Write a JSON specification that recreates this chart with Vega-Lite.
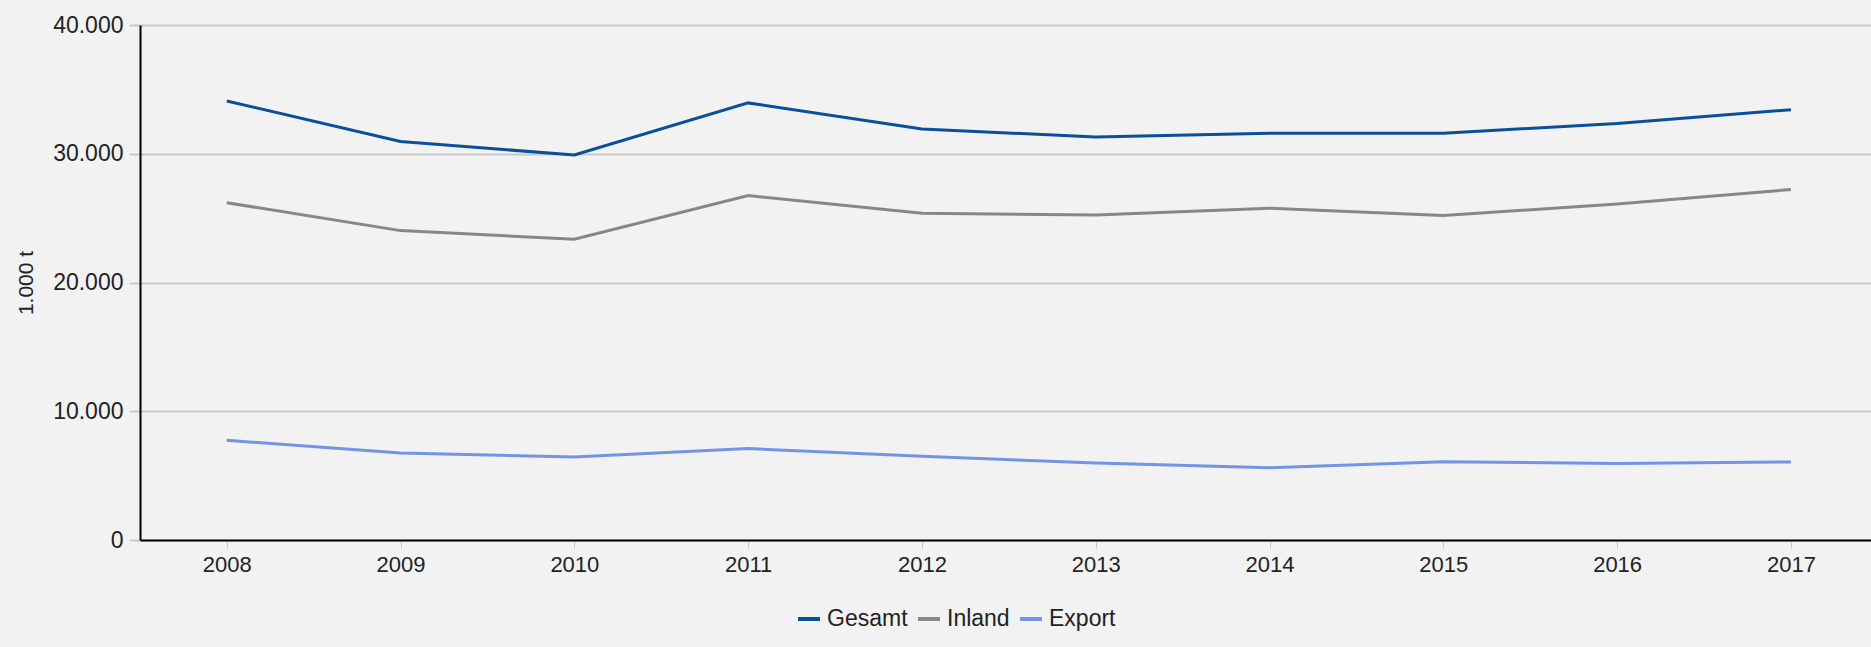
{
  "$schema": "https://vega.github.io/schema/vega-lite/v6.json",
  "width": 1731,
  "height": 515,
  "autosize": {"type": "none"},
  "padding": {"left": 140, "top": 25, "right": 0, "bottom": 107},
  "background": "#f2f2f2",
  "config": {
    "view": {"stroke": null},
    "font": "Liberation Sans",
    "axis": {"labelColor": "#222222", "titleColor": "#222222", "labelFont": "Liberation Sans", "titleFont": "Liberation Sans"},
    "legend": {"labelFont": "Liberation Sans"}
  },
  "data": {
    "values": [
      {"Jahr": "2008", "Reihe": "Gesamt", "Wert": 34100},
      {"Jahr": "2009", "Reihe": "Gesamt", "Wert": 30950},
      {"Jahr": "2010", "Reihe": "Gesamt", "Wert": 29900},
      {"Jahr": "2011", "Reihe": "Gesamt", "Wert": 33950},
      {"Jahr": "2012", "Reihe": "Gesamt", "Wert": 31920},
      {"Jahr": "2013", "Reihe": "Gesamt", "Wert": 31300},
      {"Jahr": "2014", "Reihe": "Gesamt", "Wert": 31600},
      {"Jahr": "2015", "Reihe": "Gesamt", "Wert": 31600},
      {"Jahr": "2016", "Reihe": "Gesamt", "Wert": 32350},
      {"Jahr": "2017", "Reihe": "Gesamt", "Wert": 33420},
      {"Jahr": "2008", "Reihe": "Inland", "Wert": 26200},
      {"Jahr": "2009", "Reihe": "Inland", "Wert": 24030},
      {"Jahr": "2010", "Reihe": "Inland", "Wert": 23360},
      {"Jahr": "2011", "Reihe": "Inland", "Wert": 26750},
      {"Jahr": "2012", "Reihe": "Inland", "Wert": 25380},
      {"Jahr": "2013", "Reihe": "Inland", "Wert": 25250},
      {"Jahr": "2014", "Reihe": "Inland", "Wert": 25770},
      {"Jahr": "2015", "Reihe": "Inland", "Wert": 25200},
      {"Jahr": "2016", "Reihe": "Inland", "Wert": 26100},
      {"Jahr": "2017", "Reihe": "Inland", "Wert": 27220},
      {"Jahr": "2008", "Reihe": "Export", "Wert": 7740},
      {"Jahr": "2009", "Reihe": "Export", "Wert": 6760},
      {"Jahr": "2010", "Reihe": "Export", "Wert": 6450},
      {"Jahr": "2011", "Reihe": "Export", "Wert": 7100},
      {"Jahr": "2012", "Reihe": "Export", "Wert": 6500},
      {"Jahr": "2013", "Reihe": "Export", "Wert": 5980},
      {"Jahr": "2014", "Reihe": "Export", "Wert": 5620},
      {"Jahr": "2015", "Reihe": "Export", "Wert": 6080},
      {"Jahr": "2016", "Reihe": "Export", "Wert": 5950},
      {"Jahr": "2017", "Reihe": "Export", "Wert": 6060}
    ]
  },
  "mark": {"type": "line", "strokeWidth": 3},
  "encoding": {
    "x": {
      "field": "Jahr",
      "type": "ordinal",
      "scale": {"type": "point", "padding": 0.48, "align": 0.52},
      "axis": {
        "title": null,
        "labelAngle": 0,
        "labelFontSize": 22,
        "labelPadding": 6,
        "domainColor": "#000000",
        "domainWidth": 2,
        "tickColor": "#c8c8c8",
        "tickSize": 8,
        "tickWidth": 1,
        "grid": false
      }
    },
    "y": {
      "field": "Wert",
      "type": "quantitative",
      "scale": {"domain": [0, 40000], "nice": false},
      "axis": {
        "title": "1.000 t",
        "titleFontSize": 21,
        "titleFontWeight": "normal",
        "titlePadding": 16,
        "values": [0, 10000, 20000, 30000, 40000],
        "labelExpr": "replace(format(datum.value, ','), ',', '.')",
        "labelFontSize": 23,
        "labelPadding": 6,
        "domainColor": "#000000",
        "domainWidth": 2,
        "tickColor": "#c8c8c8",
        "tickSize": 11,
        "tickWidth": 2,
        "grid": true,
        "gridColor": "#c8c8c8",
        "gridWidth": 2
      }
    },
    "color": {
      "field": "Reihe",
      "type": "nominal",
      "scale": {"domain": ["Gesamt", "Inland", "Export"], "range": ["#0b4f99", "#878787", "#7394e4"]},
      "legend": {
        "title": null,
        "orient": "none",
        "legendX": 656,
        "legendY": 581,
        "direction": "horizontal",
        "symbolType": "stroke",
        "symbolSize": 484,
        "symbolStrokeWidth": 4,
        "labelFontSize": 23,
        "labelColor": "#222222",
        "labelOffset": 5,
        "columnPadding": 2,
        "padding": 0
      }
    }
  }
}
